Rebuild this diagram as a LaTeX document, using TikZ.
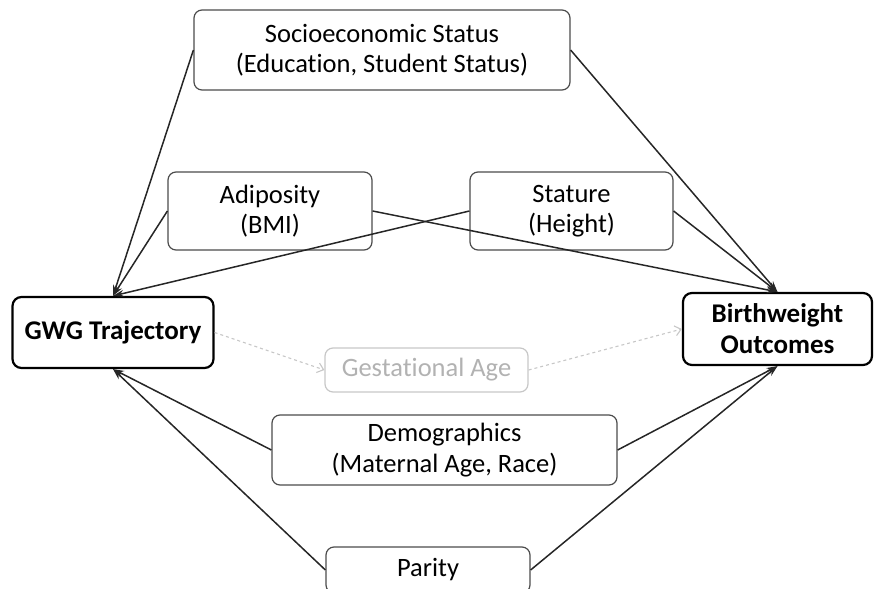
\documentclass[tikz,border=0pt]{standalone}
\usepackage{fontspec}
\setmainfont{Carlito}[Ligatures=NoCommon]
\usetikzlibrary{arrows.meta}
\newcommand{\mylinecolor}{black!85}
\newcommand{\myfadecolor}{black!22}

\begin{document}
\begin{tikzpicture}[x=1pt,y=-1pt,
  factor/.style={draw=black!70,line width=1.2pt,rounded corners=8pt,align=center,inner sep=0pt,
    font=\fontsize{26.5}{30.5}\selectfont},
  outcome/.style={draw=black,line width=2.2pt,rounded corners=9pt,align=center,inner sep=0pt,
    font=\fontsize{27}{31}\selectfont\bfseries},
  faded/.style={draw=\myfadecolor,line width=1.2pt,rounded corners=8pt,inner sep=0pt,
    text=black!30,font=\fontsize{26.5}{30.5}\selectfont},
  link/.style={draw=\mylinecolor,line width=1.5pt,-{Stealth[length=11pt,width=7pt]}},
  fadedlink/.style={draw=\myfadecolor,line width=1.1pt,dashed,-{Straight Barb[length=6pt,width=10pt]}}]

 \useasboundingbox (0,0) rectangle (876,589);
 \clip (0,0) rectangle (876,589);

 \node[factor,minimum width=376,minimum height=80] (ses) at (382,50)
   {Socioeconomic Status\\(Education, Student Status)};
 \node[factor,minimum width=204,minimum height=78] (adip) at (270,211) {Adiposity\\(BMI)};
 \node[factor,minimum width=203,minimum height=78] (stat) at (571.5,211) {Stature\\(Height)};
 \node[outcome,minimum width=201,minimum height=71] (gwg) at (113,332.5) {GWG Trajectory};
 \node[outcome,minimum width=189,minimum height=72] (bw) at (777.5,329) {Birthweight\\Outcomes};
 \node[faded,minimum width=203,minimum height=44] (ga) at (426.5,370) {Gestational Age};
 \node[factor,minimum width=345,minimum height=70] (demo) at (444.5,450)
   {Demographics\\(Maternal Age, Race)};
 \node[factor,minimum width=204,minimum height=46] (par) at (428,570) {Parity};

 \draw[link] (ses.west) -- (gwg.north);
 \draw[link] (adip.west) -- (gwg.north);
 \draw[link] (stat.west) -- (gwg.north);
 \draw[link] (ses.east) -- (bw.north);
 \draw[link] (adip.east) -- (bw.north);
 \draw[link] (stat.east) -- (bw.north);
 \draw[link] (demo.west) -- (gwg.south);
 \draw[link] (par.west) -- (gwg.south);
 \draw[link] (demo.east) -- (bw.south);
 \draw[link] (par.east) -- (bw.south);
 \draw[fadedlink] (gwg.east) -- (ga.west);
 \draw[fadedlink] (ga.east) -- (bw.west);

\end{tikzpicture}
\end{document}
